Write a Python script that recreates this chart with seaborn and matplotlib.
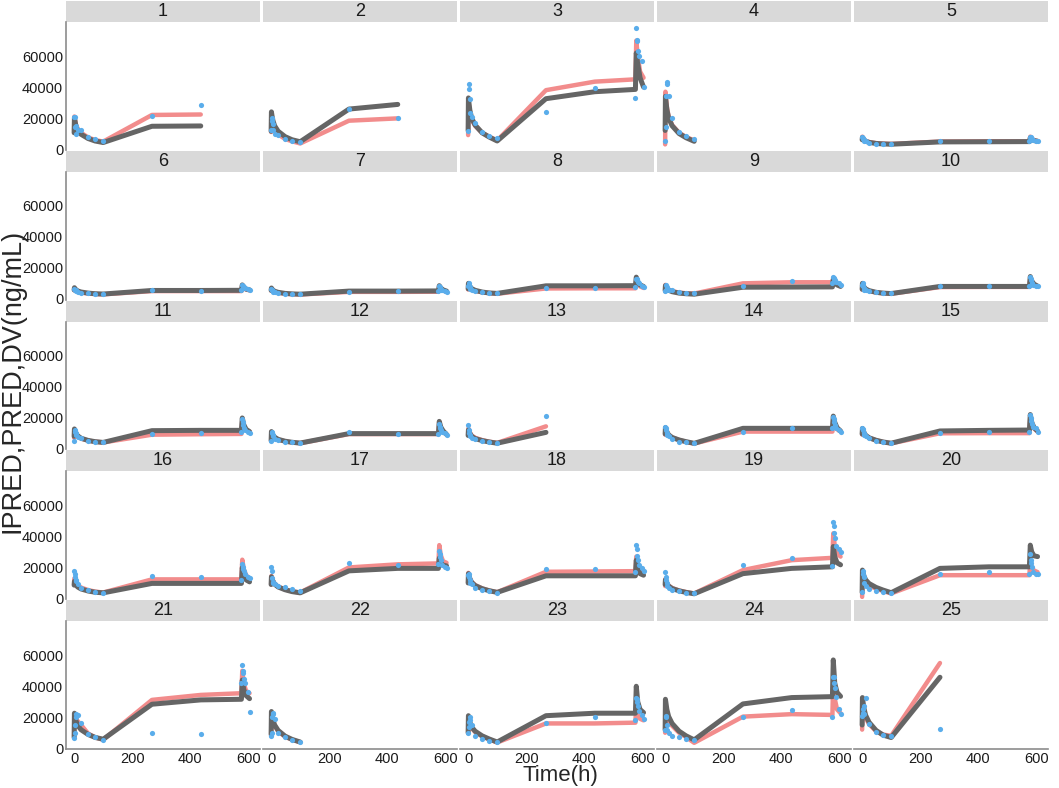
import matplotlib
matplotlib.use("Agg")
import matplotlib.pyplot as plt
from matplotlib.patches import Rectangle
import pandas as pd
import seaborn as sns

# sampling times (h) used by the model curves and by the observations
line_time = [0, 1, 3, 6, 12, 24, 48, 72, 100, 268, 436, 576, 579, 584, 592, 604]
dv_time = [1, 2, 3, 5, 8, 12, 24, 48, 72, 100, 268, 436,
           576, 578, 580, 582, 585, 590, 598, 604]

subject_ids = list(range(1, 26))

# individual predictions (red)
ipred_values = [
    [12000, 21000, 19000, 16000, 13000, 10500, 7500, 5800, 4800, 22000, 22300],
    [11000, 20000, 18000, 15500, 12500, 9500, 6500, 5000, 3600, 18300, 19800],
    [9000, 31000, 28000, 24000, 19000, 15000, 10500, 8000, 5500, 38000, 43500, 45000, 70000, 60000, 50000, 46000],
    [3000, 37000, 33000, 27000, 21000, 15500, 10500, 7800, 5500],
    [6500, 8000, 7200, 6300, 5300, 4500, 3800, 3500, 3300, 4800, 5000, 5000, 8000, 6500, 5800, 5200],
    [5500, 6800, 6200, 5600, 4800, 4100, 3400, 3100, 2900, 5000, 5000, 5000, 8500, 7000, 6000, 5500],
    [5200, 6500, 6000, 5300, 4600, 4000, 3300, 3000, 2800, 4500, 4500, 4600, 8000, 6500, 5400, 4600],
    [6000, 9500, 8700, 7600, 6300, 5200, 4200, 3700, 3300, 6700, 6800, 6800, 12500, 10000, 8000, 7000],
    [5000, 9000, 8200, 7200, 6000, 5000, 4000, 3600, 3400, 10000, 10700, 10700, 13500, 11500, 10000, 9000],
    [6000, 9500, 8600, 7500, 6200, 5100, 4100, 3600, 3300, 7600, 7700, 7700, 13500, 11000, 9000, 8000],
    [7000, 12000, 11000, 9500, 8000, 6500, 5200, 4500, 4000, 9000, 9300, 9500, 18000, 14500, 12000, 11000],
    [5000, 10700, 9800, 8600, 7200, 5900, 4700, 4000, 3500, 9400, 9400, 9400, 17000, 13500, 11000, 9000],
    [9000, 13000, 12000, 10500, 8500, 7000, 5500, 4500, 3700, 14400],
    [9000, 13500, 12400, 10800, 8900, 7200, 5600, 4400, 3300, 11000, 11000, 11000, 19000, 15500, 12500, 11000],
    [9000, 13000, 12000, 10500, 8600, 7000, 5400, 4300, 3400, 9900, 10000, 10000, 20000, 16000, 13000, 11000],
    [9000, 13000, 12000, 10500, 8600, 7000, 5400, 4400, 3800, 12300, 12300, 12300, 25000, 19000, 15000, 12900],
    [9000, 14500, 13300, 11600, 9500, 7600, 5800, 4600, 3800, 20000, 22000, 22600, 34400, 28000, 24000, 23000],
    [10000, 16500, 15000, 13000, 10700, 8600, 6500, 5100, 4000, 17200, 17400, 17600, 27000, 22000, 19000, 18000],
    [8000, 12500, 11500, 10000, 8300, 6700, 5100, 4100, 3200, 18300, 24700, 26200, 42000, 34000, 29000, 27000],
    [1000, 16000, 14700, 12700, 10400, 8400, 6200, 4800, 3200, 15000, 15000, 15000, 24700, 20000, 18000, 17000],
    [8000, 22000, 21000, 19500, 17500, 15000, 9500, 7000, 5500, 31200, 34400, 35500, 50000, 42000, 37000, 35500],
    [8000, 23000, 21000, 18000, 14500, 11000, 7500, 5500, 3900],
    [10000, 20000, 18500, 16000, 13000, 10500, 7700, 5800, 3700, 16000, 16000, 16500, 30000, 22000, 19000, 18000],
    [10000, 28000, 25800, 22400, 18300, 14500, 10000, 7200, 3500, 20400, 22000, 21500, 45000, 32000, 25000, 22600],
    [12000, 30000, 27600, 24000, 19700, 15500, 11000, 8800, 8000, 55000],
]

# population predictions (grey)
pred_values = [
    [10500, 20000, 18000, 15000, 12000, 9500, 6800, 5200, 4200, 14700, 14900],
    [11500, 24000, 21500, 18500, 15000, 11500, 8000, 6000, 4700, 25800, 28800],
    [12000, 33000, 29500, 25000, 20000, 15500, 10500, 7800, 5200, 32500, 37000, 38500, 62000, 55000, 46000, 40000],
    [12000, 34000, 30500, 25500, 20000, 15000, 10000, 7300, 5000],
    [6000, 7500, 6800, 6000, 5000, 4300, 3600, 3300, 3100, 4600, 4700, 4800, 7200, 6200, 5500, 5000],
    [5800, 7200, 6600, 6000, 5100, 4400, 3700, 3300, 3100, 5400, 5400, 5500, 9000, 7500, 6300, 5800],
    [5500, 7000, 6400, 5700, 4900, 4200, 3500, 3200, 3000, 5000, 5000, 5100, 8500, 7000, 5800, 5000],
    [6500, 10000, 9200, 8000, 6600, 5500, 4400, 3800, 3500, 8400, 8400, 8500, 14000, 11000, 9000, 8000],
    [5500, 8500, 7700, 6800, 5600, 4600, 3700, 3300, 3000, 7500, 7600, 7700, 12500, 10500, 9000, 8000],
    [6200, 10000, 9000, 7800, 6400, 5300, 4200, 3700, 3400, 8000, 8000, 8000, 14400, 11500, 9500, 8200],
    [8000, 12700, 11500, 10000, 8300, 6700, 5300, 4500, 4000, 11600, 11800, 11800, 19800, 15500, 12500, 11000],
    [5200, 11000, 10000, 8800, 7400, 6000, 4800, 4100, 3600, 9700, 9700, 9700, 17600, 14000, 11500, 9200],
    [8500, 12000, 11000, 9800, 8000, 6500, 5200, 4300, 3500, 10500],
    [9500, 13500, 12400, 10800, 8900, 7200, 5600, 4500, 3400, 13100, 13100, 13100, 21000, 17000, 13500, 11400],
    [9500, 13000, 12000, 10500, 8600, 7000, 5400, 4300, 3500, 11400, 11800, 12000, 22000, 17000, 13500, 11400],
    [8600, 11000, 10200, 9000, 7400, 6100, 4800, 4000, 3600, 9700, 9700, 9700, 20000, 15000, 12000, 10700],
    [9000, 14000, 12800, 11200, 9200, 7400, 5600, 4400, 3600, 17800, 19400, 19400, 26000, 23000, 21500, 21000],
    [10000, 16000, 14600, 12700, 10400, 8300, 6300, 5000, 3900, 14600, 14600, 14600, 24700, 19000, 16000, 15000],
    [9000, 12000, 11000, 9600, 8000, 6400, 4900, 3900, 3000, 16000, 19400, 20400, 33500, 27000, 23000, 21700],
    [4000, 18300, 16800, 14600, 12000, 9600, 7100, 5400, 3700, 19400, 20400, 20400, 34400, 30000, 27500, 27000],
    [7000, 22600, 20700, 18000, 14800, 11900, 8900, 7000, 5800, 28400, 31200, 31600, 44000, 38000, 34000, 32000],
    [9000, 23700, 21500, 18500, 15000, 11500, 7800, 5700, 4000],
    [10000, 21000, 19300, 16800, 13700, 11000, 8000, 6000, 4000, 21000, 22600, 22600, 40000, 30000, 25000, 23000],
    [12000, 31600, 29000, 25000, 20500, 16000, 11000, 8000, 5400, 28600, 32700, 33300, 57000, 42000, 36000, 33500],
    [15000, 32700, 30000, 26000, 21300, 16700, 11500, 8500, 6900, 45800],
]

# observed concentrations (blue)
dv_values = [
    [20500, 21000, 14000, 10000, 15000, 12000, 12000, 8000, 6200, 5000, 21500, 28500],
    [12000, 20000, 18000, 16000, 12000, 10000, 9000, 6200, 5000, 4300, 25800, 19800],
    [11500, 42000, 39000, 32500, 23500, 20400, 16500, 11000, 8400, 6900, 24000, 39500,
     33000, 78000, 70500, 70000, 63000, 60000, 57000, 40000],
    [5000, 14400, 34000, 42000, 43000, 34000, 20000, 11000, 8400, 6200],
    [8000, 7000, 6500, 6000, 5500, 5000, 4000, 3500, 3300, 3200, 5000, 5500,
     5000, 8000, 7500, 7000, 6500, 6000, 5500, 5000],
    [6500, 6000, 5800, 5500, 5000, 4500, 4000, 3500, 3200, 3000, 5500, 5000,
     5500, 9000, 8500, 8000, 7500, 7000, 6500, 5800],
    [6500, 6000, 5500, 5000, 4500, 4200, 3800, 3400, 3200, 3000, 4500, 5000,
     5000, 8000, 7500, 7000, 6000, 5500, 5000, 4500],
    [8000, 10000, 9000, 7500, 6500, 5500, 5000, 4500, 4000, 3500, 7000, 7300,
     7500, 13000, 12500, 12000, 11000, 10000, 8500, 7500],
    [5000, 6000, 9000, 7500, 6500, 5500, 5500, 4500, 4000, 3500, 8600, 11200,
     10000, 14000, 13500, 13000, 12000, 11000, 10000, 9000],
    [9000, 10000, 8000, 7000, 6000, 5500, 4800, 4200, 3800, 3500, 8000, 8000,
     8000, 14000, 13000, 12000, 10000, 9000, 8500, 8000],
    [5000, 12000, 11000, 10000, 8500, 7500, 7000, 5000, 4500, 4000, 9500, 10300,
     11000, 19000, 17000, 15000, 13000, 12000, 11000, 10000],
    [5000, 11000, 10000, 9000, 8000, 6500, 5500, 4500, 4000, 3500, 10500, 9500,
     9500, 16000, 14000, 13000, 12000, 11000, 10000, 9000],
    [15500, 12000, 10000, 9000, 8000, 7000, 6000, 5000, 4000, 3500, 20900],
    [14000, 13000, 12000, 10000, 9000, 8000, 6000, 4500, 4000, 3500, 11000, 13100,
     13000, 20500, 19000, 17000, 15000, 13000, 12000, 11000],
    [13000, 12500, 12000, 10000, 9000, 8000, 7000, 5000, 4000, 3500, 10000, 10500,
     11000, 22000, 20000, 18000, 16000, 14000, 13000, 11000],
    [17800, 16000, 14000, 12000, 11000, 9000, 7000, 5500, 4200, 3600, 14600, 13800,
     12000, 22000, 20000, 19000, 18000, 16000, 14000, 13000],
    [20000, 17800, 12900, 10700, 9700, 9000, 8000, 7500, 5800, 5000, 23000, 21500,
     22000, 30500, 29000, 27000, 24700, 21500, 20000, 19400],
    [15000, 16000, 14000, 12000, 10000, 9000, 7000, 5500, 4500, 3700, 18700, 19000,
     17000, 34400, 31600, 27300, 24700, 21500, 19400, 18000],
    [17000, 14000, 12000, 10000, 8000, 7000, 5500, 4500, 3800, 3200, 21500, 26200,
     21000, 49500, 47000, 42000, 38700, 34000, 31600, 30000],
    [4300, 18000, 16000, 14000, 10000, 8000, 6000, 5000, 4200, 3700, 16000, 17200,
     15700, 28400, 24700, 22600, 20400, 17200, 16000, 15700],
    [6500, 9700, 15000, 20000, 22000, 21500, 16500, 9300, 7100, 5600, 9700, 9500,
     42400, 53800, 50000, 48400, 45000, 42000, 36600, 23700],
    [8000, 10000, 20000, 23000, 22000, 19000, 10000, 7000, 5000, 4000],
    [10000, 14000, 17000, 20000, 18000, 15000, 8000, 6000, 4500, 4000, 16500, 20000,
     18000, 32700, 31600, 30000, 27300, 24000, 21500, 18700],
    [12000, 20000, 21000, 15000, 12000, 10000, 8000, 7500, 6000, 5000, 20400, 24700,
     20400, 46000, 45800, 42000, 39000, 33300, 25000, 22000],
    [20800, 23000, 25000, 27000, 22000, 32700, 15900, 10500, 8800, 8000, 12300],
]

RED = "#F28C8C"
GREY = "#656565"
BLUE = "#5AADEB"

rows = []
for sid, ip, pr, dv in zip(subject_ids, ipred_values, pred_values, dv_values):
    for t, v in zip(line_time, ip):
        rows.append((sid, t, v, "IPRED"))
    for t, v in zip(line_time, pr):
        rows.append((sid, t, v, "PRED"))
    for t, v in zip(dv_time, dv):
        rows.append((sid, t, v, "DV"))
df = pd.DataFrame(rows, columns=["ID", "TIME", "CONC", "KIND"])


def draw_panel(data, **kws):
    ax = plt.gca()
    sns.lineplot(data=data[data.KIND == "IPRED"], x="TIME", y="CONC", ax=ax,
                 color=RED, lw=3.2, estimator=None, sort=False)
    sns.lineplot(data=data[data.KIND == "PRED"], x="TIME", y="CONC", ax=ax,
                 color=GREY, lw=3.6, estimator=None, sort=False)
    sns.scatterplot(data=data[data.KIND == "DV"], x="TIME", y="CONC", ax=ax,
                    color=BLUE, s=14, linewidth=0, zorder=5)


sns.set_style("white")
plt.rcParams["font.family"] = ["Liberation Sans", "DejaVu Sans"]

g = sns.FacetGrid(df, col="ID", col_wrap=5, col_order=subject_ids,
                  sharex=True, sharey=True, despine=False, height=1.5, aspect=1.4)
g.map_dataframe(draw_panel)
g.set_titles("")
g.set_axis_labels("", "")
g.set(xlim=(-28, 640), ylim=(-500, 82000),
      xticks=[0, 200, 400, 600], yticks=[0, 20000, 40000, 60000])

fig = g.figure
fig.set_size_inches(10.59, 7.88)
fig.subplots_adjust(left=66 / 1059, right=1048 / 1059, top=1 - 22 / 788,
                    bottom=1 - 749 / 788, wspace=0.0155, hspace=0.172)

for i, (ax, sid) in enumerate(zip(g.axes.flat, subject_ids)):
    for side in ["top", "right", "left", "bottom"]:
        ax.spines[side].set_visible(False)
    if i % 5 == 0:
        ax.spines["left"].set_visible(True)
    if i >= 20:
        ax.spines["bottom"].set_visible(True)
    for side in ["left", "bottom"]:
        ax.spines[side].set_color("#8c8c8c")
        ax.spines[side].set_linewidth(1.2)
    ax.tick_params(length=0, pad=2, labelsize=10.5, labelcolor="#1a1a1a")
    ax.set_xticks([0, 200, 400, 600])
    ax.set_xticklabels(["0", "200", "400", "600"])
    ax.set_yticks([0, 20000, 40000, 60000])
    ax.set_yticklabels(["0", "20000", "40000", "60000"])
    if i % 5 != 0:
        ax.tick_params(labelleft=False)
    if i < 20:
        ax.tick_params(labelbottom=False)
    ax.set_xlabel("")
    ax.set_ylabel("")
    ax.grid(False)
    # grey strip with the subject number
    ax.add_patch(Rectangle((0, 1), 1, 21 / 128, transform=ax.transAxes,
                           facecolor="#D9D9D9", edgecolor="none", clip_on=False))
    ax.text(0.5, 1 + 10.5 / 128, str(sid), transform=ax.transAxes,
            ha="center", va="center", fontsize=13, color="#1a1a1a")

fig.text(13 / 1059, 1 - 381 / 788, "IPRED,PRED,DV(ng/mL)", rotation=90,
         ha="center", va="center", fontsize=19.5)
fig.text(560 / 1059, 1 - 776 / 788, "Time(h)", ha="center", va="center", fontsize=16)

fig.savefig("out.png", dpi=100)
